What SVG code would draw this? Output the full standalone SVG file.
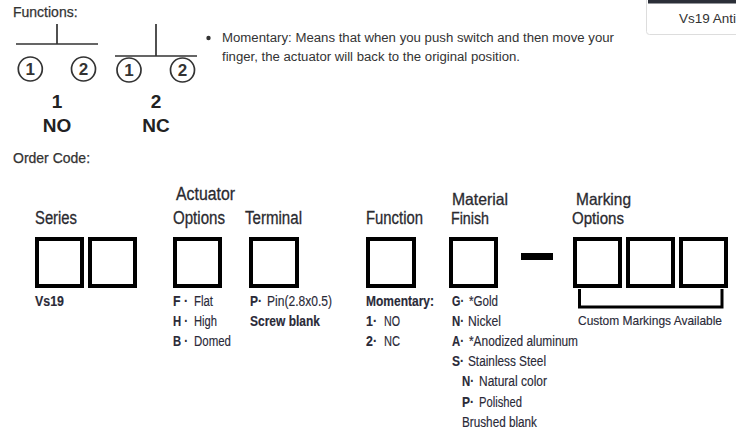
<svg xmlns="http://www.w3.org/2000/svg" width="736" height="436" viewBox="0 0 736 436">
<style>
text{font-family:"Liberation Sans",Arial,sans-serif}
.h{font-size:14px;fill:#333;stroke:#333;stroke-width:.25px}
.p{font-size:12.5px;fill:#333}
.t{font-size:18px;fill:#2a2a30;stroke:#2a2a30;stroke-width:.3px}
.t2{font-size:16.5px;fill:#2a2a30;stroke:#2a2a30;stroke-width:.3px}
.s{font-size:14px;fill:#2a2a38;stroke:#2a2a38;stroke-width:.15px}
.b{font-weight:bold}
.box{fill:#fff;stroke:#000;stroke-width:4}
.l{stroke:#333;stroke-width:1.7;fill:none}
.c{fill:#fff;stroke:#333;stroke-width:1.7}
.n{font-size:17px;font-weight:bold;fill:#333;text-anchor:middle}
.m{font-size:19px;font-weight:bold;fill:#222;text-anchor:middle}
</style>
<rect width="736" height="436" fill="#fff"/>
<g id="tab">
<rect x="646.500" y="-6" width="100" height="40.500" rx="3" fill="#fff" stroke="#ddd"/>
<rect x="648" y="0" width="88" height="3.500" fill="#2b2f38"/>
<text x="679" y="23" font-size="13.500" fill="#333">Vs19 Anti</text>
</g>
<g id="functions-title"><text class="h" x="13" y="17">Functions:</text></g>
<g id="no-symbol">
<path class="l" d="M16 44H98M57 24V44"/>
<circle class="c" cx="30.300" cy="69" r="12"/><circle class="c" cx="83.500" cy="69" r="12"/>
<text class="n" x="30.300" y="75">1</text><text class="n" x="83.500" y="75">2</text>
<text class="m" x="57" y="107.500">1</text><text class="m" x="57" y="131.500">NO</text>
</g>
<g id="nc-symbol">
<path class="l" d="M115 56H197M156 24V56"/>
<circle class="c" cx="129" cy="70" r="12"/><circle class="c" cx="182.500" cy="70" r="12"/>
<text class="n" x="129" y="76">1</text><text class="n" x="182.500" y="76">2</text>
<text class="m" x="156" y="107.500">2</text><text class="m" x="156" y="131.500">NC</text>
</g>
<g id="description">
<circle cx="208.500" cy="38" r="2.200" fill="#333"/>
<text class="p" x="222" y="42" textLength="392" lengthAdjust="spacingAndGlyphs">Momentary: Means that when you push switch and then move your</text>
<text class="p" x="222" y="61" textLength="298" lengthAdjust="spacingAndGlyphs">finger, the actuator will back to the original position.</text>
</g>
<g id="order-title"><text class="h" x="13" y="163">Order Code:</text></g>
<g id="series">
<text class="t" x="35" y="224" textLength="42" lengthAdjust="spacingAndGlyphs">Series</text>
<rect class="box" x="37" y="239" width="45" height="47"/><rect class="box" x="90" y="239" width="45" height="47"/>
<text class="s b" x="35" y="306" textLength="29" lengthAdjust="spacingAndGlyphs">Vs19</text>
</g>
<g id="actuator">
<text class="t" x="176" y="200" textLength="59" lengthAdjust="spacingAndGlyphs">Actuator</text>
<text class="t" x="173" y="224" textLength="52" lengthAdjust="spacingAndGlyphs">Options</text>
<rect class="box" x="175" y="239" width="45" height="47"/>
<text class="s b" x="173" y="306" textLength="15" lengthAdjust="spacingAndGlyphs">F ·</text><text class="s" x="194" y="306" textLength="19" lengthAdjust="spacingAndGlyphs">Flat</text>
<text class="s b" x="173" y="326" textLength="15" lengthAdjust="spacingAndGlyphs">H ·</text><text class="s" x="194" y="326" textLength="23" lengthAdjust="spacingAndGlyphs">High</text>
<text class="s b" x="173" y="346" textLength="15" lengthAdjust="spacingAndGlyphs">B ·</text><text class="s" x="194" y="346" textLength="37" lengthAdjust="spacingAndGlyphs">Domed</text>
</g>
<g id="terminal">
<text class="t" x="245" y="224" textLength="57" lengthAdjust="spacingAndGlyphs">Terminal</text>
<rect class="box" x="251" y="239" width="46" height="47"/>
<text class="s b" x="250" y="306" textLength="12" lengthAdjust="spacingAndGlyphs">P·</text><text class="s" x="267" y="306" textLength="65" lengthAdjust="spacingAndGlyphs">Pin(2.8x0.5)</text>
<text class="s b" x="250" y="326" textLength="70" lengthAdjust="spacingAndGlyphs">Screw blank</text>
</g>
<g id="function">
<text class="t" x="366" y="224" textLength="57" lengthAdjust="spacingAndGlyphs">Function</text>
<rect class="box" x="368" y="239" width="46" height="47"/>
<text class="s b" x="366" y="306" textLength="68" lengthAdjust="spacingAndGlyphs">Momentary:</text>
<text class="s b" x="366" y="326" textLength="11" lengthAdjust="spacingAndGlyphs">1·</text><text class="s" x="384" y="326" textLength="16" lengthAdjust="spacingAndGlyphs">NO</text>
<text class="s b" x="366" y="346" textLength="11" lengthAdjust="spacingAndGlyphs">2·</text><text class="s" x="384" y="346" textLength="16" lengthAdjust="spacingAndGlyphs">NC</text>
</g>
<g id="material">
<text class="t2" x="452" y="205" textLength="56" lengthAdjust="spacingAndGlyphs">Material</text>
<text class="t2" x="451" y="224" textLength="38" lengthAdjust="spacingAndGlyphs">Finish</text>
<rect class="box" x="451" y="239" width="45" height="47"/>
<text class="s b" x="452" y="306" textLength="12" lengthAdjust="spacingAndGlyphs">G·</text><text class="s" x="469" y="306" textLength="29" lengthAdjust="spacingAndGlyphs">*Gold</text>
<text class="s b" x="452" y="326" textLength="12" lengthAdjust="spacingAndGlyphs">N·</text><text class="s" x="468" y="326" textLength="33" lengthAdjust="spacingAndGlyphs">Nickel</text>
<text class="s b" x="452" y="346" textLength="12" lengthAdjust="spacingAndGlyphs">A·</text><text class="s" x="469" y="346" textLength="109" lengthAdjust="spacingAndGlyphs">*Anodized aluminum</text>
<text class="s b" x="452" y="366" textLength="12" lengthAdjust="spacingAndGlyphs">S·</text><text class="s" x="468" y="366" textLength="78" lengthAdjust="spacingAndGlyphs">Stainless Steel</text>
<text class="s b" x="462" y="386" textLength="12" lengthAdjust="spacingAndGlyphs">N·</text><text class="s" x="479" y="386" textLength="68" lengthAdjust="spacingAndGlyphs">Natural color</text>
<text class="s b" x="462" y="407" textLength="12" lengthAdjust="spacingAndGlyphs">P·</text><text class="s" x="479" y="407" textLength="43" lengthAdjust="spacingAndGlyphs">Polished</text>
<text class="s" x="462" y="427" textLength="75" lengthAdjust="spacingAndGlyphs">Brushed blank</text>
</g>
<g id="dash"><rect x="521" y="253" width="32" height="7" fill="#000"/></g>
<g id="marking">
<text class="t2" x="576" y="205" textLength="55" lengthAdjust="spacingAndGlyphs">Marking</text>
<text class="t2" x="572" y="224" textLength="52" lengthAdjust="spacingAndGlyphs">Options</text>
<rect class="box" x="575" y="239" width="45" height="47"/><rect class="box" x="628" y="239" width="45" height="47"/><rect class="box" x="681" y="239" width="45" height="47"/>
<path d="M579.500 289V307H722V289" fill="none" stroke="#000" stroke-width="3"/>
<text x="578" y="325" font-size="13" fill="#2a2a38" stroke="#2a2a38" stroke-width=".15" textLength="144" lengthAdjust="spacingAndGlyphs">Custom Markings Available</text>
</g>
</svg>
